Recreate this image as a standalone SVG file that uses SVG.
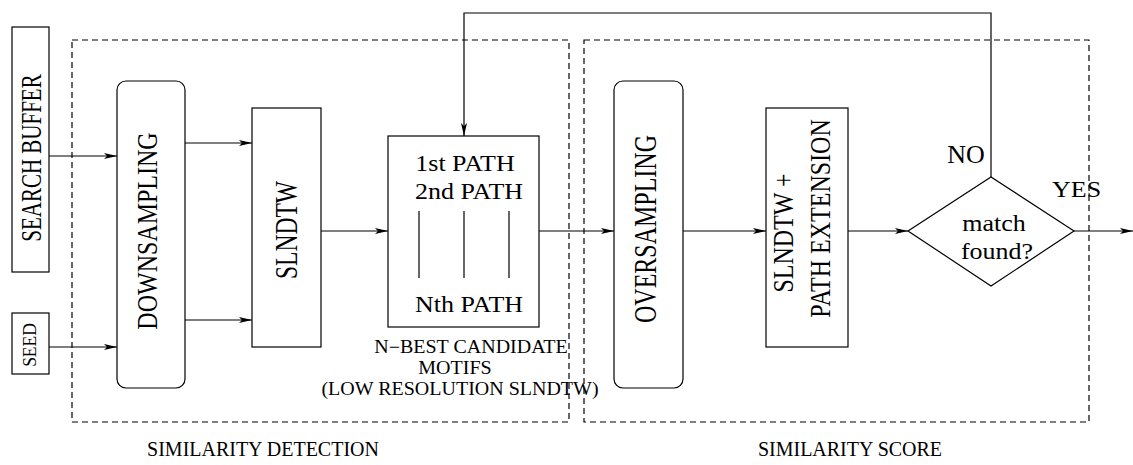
<svg xmlns="http://www.w3.org/2000/svg" width="1133" height="465" viewBox="0 0 1133 465">
<defs>
<marker id="ah" markerUnits="userSpaceOnUse" markerWidth="14" markerHeight="8" refX="13" refY="3" orient="auto" overflow="visible">
<path d="M0,0 L13,3 L0,6 L3,3 z" fill="#000"/>
</marker>
<style>
.box{fill:#fff;stroke:#000;stroke-width:1.2}
.dash{fill:none;stroke:#000;stroke-width:1.2;stroke-dasharray:6,4}
.ln{fill:none;stroke:#000;stroke-width:1.2}
.arr{fill:none;stroke:#000;stroke-width:1.2;marker-end:url(#ah)}
text{font-family:"Liberation Serif","Times New Roman",serif;fill:#000}
.t26{font-size:26px}
.t24{font-size:24px}
.t20{font-size:20px}
</style>
</defs>
<rect width="1133" height="465" fill="#fff"/>
<g id="groups">
<rect class="dash" x="72" y="40" width="497" height="382"/>
<rect class="dash" x="584" y="40" width="505" height="382"/>
<text class="t20" transform="translate(263,456) scale(1,1.08)" text-anchor="middle">SIMILARITY DETECTION</text>
<text class="t20" transform="translate(850,456) scale(1,1.08)" text-anchor="middle">SIMILARITY SCORE</text>
</g>
<g id="connectors">
<line class="arr" x1="49" y1="156" x2="117" y2="156"/>
<line class="arr" x1="49" y1="347" x2="117" y2="347"/>
<line class="arr" x1="185" y1="143" x2="252" y2="143"/>
<line class="arr" x1="185" y1="320" x2="252" y2="320"/>
<line class="arr" x1="321" y1="231" x2="388" y2="231"/>
<line class="arr" x1="539" y1="231" x2="614" y2="231"/>
<line class="arr" x1="683" y1="231" x2="766" y2="231"/>
<line class="arr" x1="848" y1="231" x2="908" y2="231"/>
<line class="arr" x1="1074" y1="231" x2="1133" y2="231"/>
<polyline class="arr" points="991,177 991,13 464,13 464,136"/>
</g>
<g id="search-buffer">
<rect class="box" x="12" y="27" width="37" height="245"/>
<text transform="translate(41,158) rotate(-90) scale(1,1.4)" text-anchor="middle" style="font-size:21px">SEARCH BUFFER</text>
</g>
<g id="seed">
<rect class="box" x="12" y="313" width="37" height="61"/>
<text transform="translate(36,345) rotate(-90) scale(1,1.1)" text-anchor="middle" style="font-size:17.5px">SEED</text>
</g>
<g id="downsampling">
<rect class="box" x="117" y="81" width="68" height="307" rx="9"/>
<text class="t24" transform="translate(157,231) rotate(-90) scale(1,1.27)" text-anchor="middle">DOWNSAMPLING</text>
</g>
<g id="slndtw">
<rect class="box" x="252" y="108" width="69" height="239"/>
<text transform="translate(297,230) rotate(-90) scale(1,1.3)" text-anchor="middle" style="font-size:23.5px">SLNDTW</text>
</g>
<g id="paths">
<rect class="box" x="388" y="136" width="151" height="191"/>
<text class="t26" transform="translate(465,171) scale(1,0.86)" text-anchor="middle">1st PATH</text>
<text class="t26" transform="translate(469,199) scale(1,0.86)" text-anchor="middle">2nd PATH</text>
<line class="ln" x1="419" y1="211" x2="419" y2="278"/>
<line class="ln" x1="464" y1="211" x2="464" y2="278"/>
<line class="ln" x1="509" y1="211" x2="509" y2="278"/>
<text class="t26" transform="translate(469,312) scale(1,0.9)" text-anchor="middle">Nth PATH</text>
</g>
<g id="caption">
<text class="t20" transform="translate(471,353) scale(1,0.9)" text-anchor="middle">N−BEST CANDIDATE</text>
<text class="t20" transform="translate(455,374) scale(1,0.9)" text-anchor="middle">MOTIFS</text>
<text class="t20" transform="translate(460,395) scale(1,0.9)" text-anchor="middle">(LOW RESOLUTION SLNDTW)</text>
</g>
<g id="oversampling">
<rect class="box" x="614" y="81" width="69" height="307" rx="9"/>
<text class="t24" transform="translate(656,229) rotate(-90) scale(1,1.3)" text-anchor="middle">OVERSAMPLING</text>
</g>
<g id="slndtw-path-ext">
<rect class="box" x="766" y="108" width="82" height="239"/>
<text class="t24" transform="translate(793,233) rotate(-90) scale(1,1.26)" text-anchor="middle">SLNDTW +</text>
<text class="t24" transform="translate(830,218.5) rotate(-90) scale(1,1.22)" text-anchor="middle">PATH EXTENSION</text>
</g>
<g id="decision">
<polygon class="box" points="908,231 991,177 1074,231 991,286"/>
<text class="t26" transform="translate(994,231) scale(1,0.85)" text-anchor="middle">match</text>
<text class="t26" transform="translate(997,259) scale(1,0.85)" text-anchor="middle">found?</text>
<text class="t26" transform="translate(966,163) scale(1,0.93)" text-anchor="middle">NO</text>
<text class="t26" transform="translate(1052,197) scale(1,0.87)">YES</text>
</g>
</svg>
